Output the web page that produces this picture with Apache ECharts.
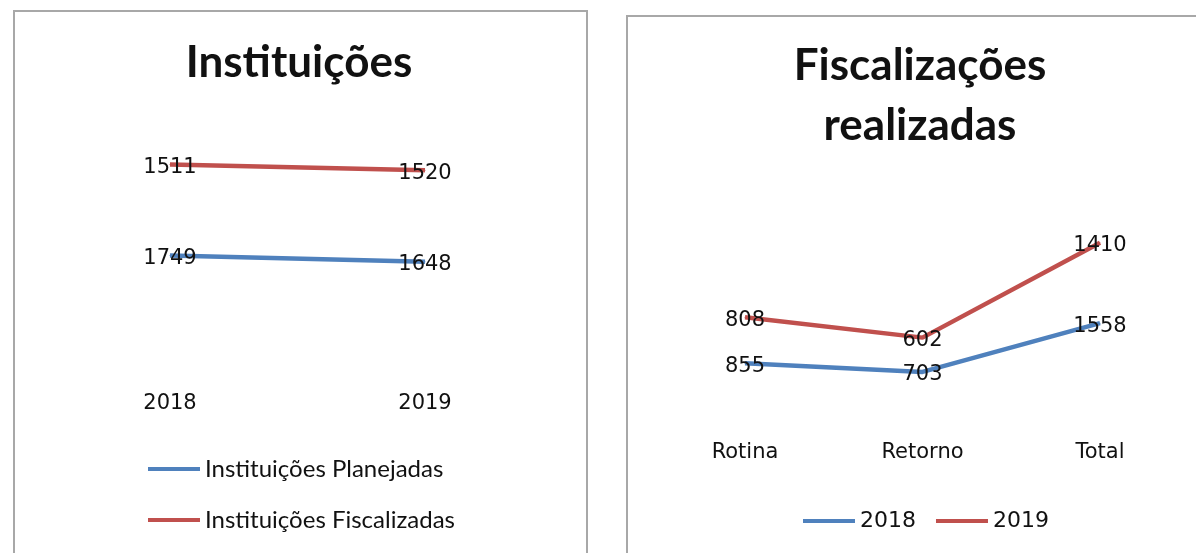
<!DOCTYPE html>
<html>
<head>
<meta charset="utf-8">
<script src="https://cdn.jsdelivr.net/npm/echarts@6/dist/echarts.min.js"></script>
<style>
  html, body { margin: 0; padding: 0; background: #fff; }
  #chart { width: 1196px; height: 553px; }
</style>
</head>
<body>
<div id="chart"></div>
<script>
// left panel: institutions per year
const anos = ["2018", "2019"];
const planejadas = [1749, 1648];
const fiscalizadas = [1511, 1520];

// right panel: inspections by type
const tipos = ["Rotina", "Retorno", "Total"];
const fisc2018 = [855, 703, 1558];
const fisc2019 = [808, 602, 1410];

const BLUE = "#4F81BD";
const RED = "#C0504D";

/* shared look for the stacked lines */
function lineSeries(name, data, color, idx) {
    return {
        name: name,
        type: "line",
        stack: "s" + idx,
        xAxisIndex: idx,
        yAxisIndex: idx,
        data: data,
        symbol: "circle",
        symbolSize: 1,
        showSymbol: true,
        lineStyle: { color: color, width: 4.5 },
        itemStyle: { color: color },
        label: {
            show: true,
            position: "inside",
            offset: [0, 3],
            fontFamily: "DejaVu Sans",
            fontSize: 21,
            color: "#111",
        },
    };
}

const axisLabel = { fontFamily: "DejaVu Sans", fontSize: 21, color: "#111" };

let myChart = echarts.init(document.querySelector("#chart"));
option = {
    animation: false,
    graphic: [
        {
            type: "rect",
            shape: { x: 14, y: 11, width: 573, height: 560 },
            style: { fill: "none", stroke: "#a8a8a8", lineWidth: 2 },
        },
        {
            type: "rect",
            shape: { x: 627, y: 16, width: 600, height: 560 },
            style: { fill: "none", stroke: "#a8a8a8", lineWidth: 2 },
        },
    ],
    title: [
        {
            text: "Instituições",
            left: 294,
            top: 36,
            textAlign: "center",
            textStyle: { fontFamily: "Lato", fontWeight: "bold", fontSize: 44, color: "#111" },
        },
        {
            text: "Fiscalizações\nrealizadas",
            left: 915,
            top: 31,
            textAlign: "center",
            textStyle: { fontFamily: "Lato", fontWeight: "bold", fontSize: 44, lineHeight: 60, color: "#111" },
        },
    ],
    legend: [
        {
            data: ["Instituições Planejadas", "Instituições Fiscalizadas"],
            orient: "vertical",
            left: 143,
            top: 452,
            itemGap: 27,
            icon: "rect",
            itemWidth: 52,
            itemHeight: 4,
            textStyle: { fontFamily: "Lato", fontSize: 24, color: "#111" },
        },
        {
            data: ["2018", "2019"],
            left: 798,
            top: 505,
            itemGap: 20,
            icon: "rect",
            itemWidth: 52,
            itemHeight: 4,
            textStyle: { fontFamily: "DejaVu Sans", fontSize: 22, color: "#111" },
        },
    ],
    grid: [
        { left: 170, width: 255, top: 120, height: 241 },
        { left: 745, width: 355, top: 184, height: 228 },
    ],
    xAxis: [
        {
            type: "category",
            gridIndex: 0,
            data: anos,
            boundaryGap: false,
            axisLine: { show: false },
            axisTick: { show: false },
            axisLabel: Object.assign({ margin: 32 }, axisLabel),
        },
        {
            type: "category",
            gridIndex: 1,
            data: tipos,
            boundaryGap: false,
            axisLine: { show: false },
            axisTick: { show: false },
            axisLabel: Object.assign({ margin: 30 }, axisLabel),
        },
    ],
    yAxis: [
        { type: "value", gridIndex: 0, min: 0, max: 4000, show: false },
        { type: "value", gridIndex: 1, min: 0, max: 4000, show: false },
    ],
    series: [
        lineSeries("Instituições Planejadas", planejadas, BLUE, 0),
        lineSeries("Instituições Fiscalizadas", fiscalizadas, RED, 0),
        lineSeries("2018", fisc2018, BLUE, 1),
        lineSeries("2019", fisc2019, RED, 1),
    ],
};
myChart.setOption(option);
</script>
</body>
</html>
